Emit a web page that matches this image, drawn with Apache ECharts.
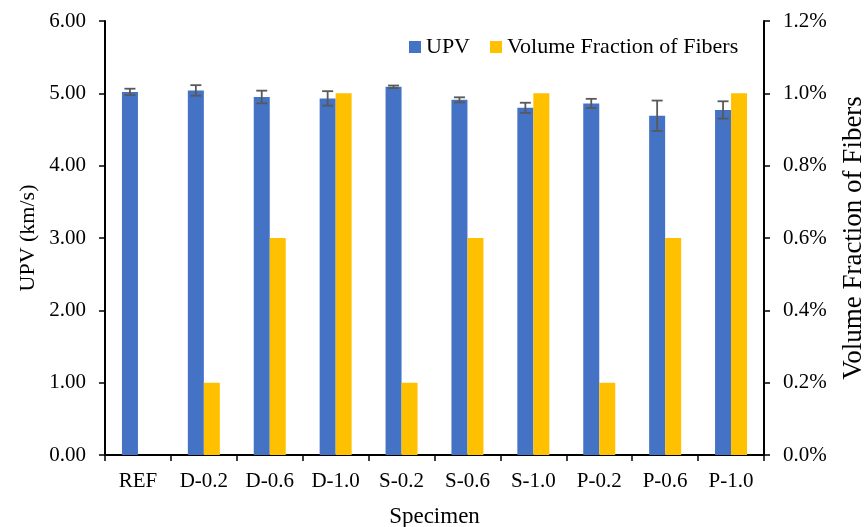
<!DOCTYPE html>
<html>
<head>
<meta charset="utf-8">
<script src="https://cdn.jsdelivr.net/npm/echarts@6/dist/echarts.min.js"></script>
<style>
  html, body { margin: 0; padding: 0; background: #fff; }
  #chart { width: 867px; height: 527px; }
</style>
</head>
<body>
<div id="chart"></div>
<script>
const categories = ['REF', 'D-0.2', 'D-0.6', 'D-1.0', 'S-0.2', 'S-0.6', 'S-1.0', 'P-0.2', 'P-0.6', 'P-1.0']
const upv = [5.02, 5.04, 4.95, 4.93, 5.09, 4.91, 4.80, 4.86, 4.69, 4.77]
const upvErr = [0.044, 0.073, 0.087, 0.10, 0.018, 0.035, 0.07, 0.064, 0.21, 0.12]
const fiberFraction = [0, 0.2, 0.6, 1.0, 0.2, 0.6, 1.0, 0.2, 0.6, 1.0]
const leftTicks = [0, 1, 2, 3, 4, 5, 6]
const rightTicks = [0, 0.2, 0.4, 0.6, 0.8, 1.0, 1.2]

const font = 'Liberation Serif'
const BAR_W = 16

const chart = echarts.init(document.getElementById('chart'))

const errData = upv.map((v, i) => [i, v - upvErr[i], v + upvErr[i]])

const option = {
  animation: false,
  textStyle: { fontFamily: font, color: '#000' },
  grid: { left: 105, right: 103, top: 21, bottom: 72, outerBoundsMode: 'none' },
  legend: {
    top: 31,
    left: 404,
    itemWidth: 12,
    itemHeight: 12,
    itemGap: 20,
    icon: 'rect',
    textStyle: { fontFamily: font, fontSize: 22, color: '#000' },
    data: ['UPV', 'Volume Fraction of Fibers']
  },
  xAxis: [{
    type: 'category',
    data: categories,
    name: 'Specimen',
    nameLocation: 'middle',
    nameGap: 50,
    nameTextStyle: { fontFamily: font, fontSize: 23, color: '#000' },
    axisLine: { lineStyle: { color: '#000', width: 2 } },
    axisTick: { show: true, inside: false, length: 6, lineStyle: { color: '#000', width: 1.5 } },
    axisLabel: { fontFamily: font, fontSize: 21, color: '#000', margin: 16 }
  }, {
    type: 'category',
    data: categories,
    position: 'top',
    axisLine: { show: true, lineStyle: { color: '#000', width: 2 } },
    axisTick: { show: false },
    axisLabel: { show: false }
  }],
  yAxis: [{
    type: 'value',
    min: 0,
    max: leftTicks[leftTicks.length - 1],
    interval: 1,
    name: 'UPV (km/s)',
    nameLocation: 'middle',
    nameGap: 66,
    nameMoveOverlap: false,
    nameRotate: 90,
    nameTextStyle: { fontFamily: font, fontSize: 22, color: '#000' },
    axisLine: { show: true, lineStyle: { color: '#000', width: 2 } },
    axisTick: { show: true, length: 6, lineStyle: { color: '#000', width: 1.5 } },
    axisLabel: { fontFamily: font, fontSize: 21, color: '#000', margin: 19, formatter: v => v.toFixed(2) },
    splitLine: { show: false }
  }, {
    type: 'value',
    min: 0,
    max: rightTicks[rightTicks.length - 1],
    interval: 0.2,
    name: 'Volume Fraction of Fibers',
    nameLocation: 'middle',
    nameGap: 76,
    nameRotate: 90,
    nameTextStyle: { fontFamily: font, fontSize: 27, color: '#000' },
    axisLine: { show: true, lineStyle: { color: '#000', width: 2 } },
    axisTick: { show: true, length: 6, lineStyle: { color: '#000', width: 1.5 } },
    axisLabel: { fontFamily: font, fontSize: 21, color: '#000', margin: 19, formatter: v => v.toFixed(1) + '%' },
    splitLine: { show: false }
  }],
  series: [{
    name: 'UPV',
    type: 'bar',
    yAxisIndex: 0,
    data: upv,
    barWidth: BAR_W,
    barGap: '0%',
    itemStyle: { color: '#4472C4' }
  }, {
    name: 'Volume Fraction of Fibers',
    type: 'bar',
    yAxisIndex: 1,
    data: fiberFraction,
    barWidth: BAR_W,
    barGap: '0%',
    itemStyle: { color: '#FFC000' }
  }, {
    name: 'err',
    type: 'custom',
    yAxisIndex: 0,
    data: errData,
    z: 5,
    renderItem: (params, api) => {
      const lo = api.coord([api.value(0), api.value(1)])
      const hi = api.coord([api.value(0), api.value(2)])
      const x = lo[0] - BAR_W / 2
      const cap = 5.5
      const style = { stroke: '#595959', lineWidth: 1.8 }
      return {
        type: 'group',
        children: [
          { type: 'line', shape: { x1: x, y1: lo[1], x2: x, y2: hi[1] }, style },
          { type: 'line', shape: { x1: x - cap, y1: lo[1], x2: x + cap, y2: lo[1] }, style },
          { type: 'line', shape: { x1: x - cap, y1: hi[1], x2: x + cap, y2: hi[1] }, style }
        ]
      }
    }
  }]
}

chart.setOption(option)
</script>
</body>
</html>
